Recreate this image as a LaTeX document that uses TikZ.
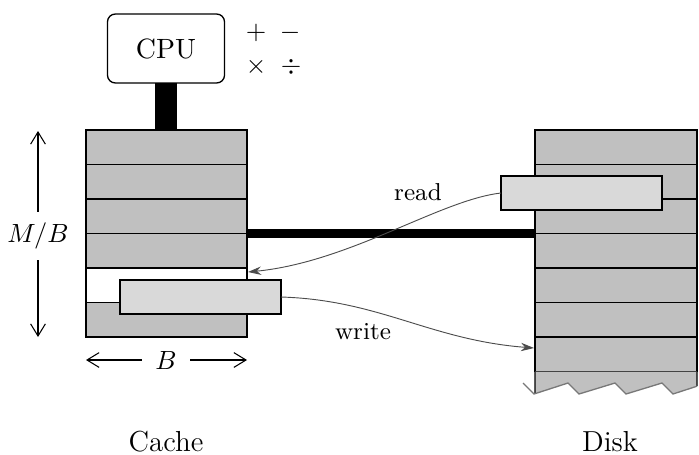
\documentclass[tikz,border=0pt]{standalone}
\usetikzlibrary{arrows.meta}
\definecolor{blk}{RGB}{192,192,192}
\definecolor{lite}{RGB}{217,217,217}
\definecolor{zig}{RGB}{120,120,120}
\begin{document}
\begin{tikzpicture}[x=0.38pt,y=-0.38pt,
  crow/.style={draw, line width=0.5pt, fill=blk, minimum width=61.18pt, minimum height=13.11pt, inner sep=0pt, outer sep=0pt},
  drow/.style={draw, line width=0.5pt, fill=blk, minimum width=61.56pt, minimum height=13.11pt, inner sep=0pt, outer sep=0pt},
  litebox/.style={draw, line width=0.5pt, fill=lite, minimum width=61.18pt, minimum height=12.92pt, inner sep=0pt, outer sep=0pt},
  lbl/.style={font=\fontsize{11}{13}\selectfont},
  small/.style={font=\fontsize{9.3}{11}\selectfont},
  dimarrow/.style={line width=0.4pt, -{Straight Barb[length=4.6pt,width=5.6pt]}},
  flow/.style={line width=0.35pt, draw=black!70, -{Stealth[length=5pt,width=3.2pt]}}
]
\useasboundingbox (0,0) rectangle (699,454);

% CPU
\node[draw, line width=0.5pt, rounded corners=3pt, minimum width=44.5pt, minimum height=26.2pt, inner sep=0pt, outer sep=0pt, font=\fontsize{10.6}{12}\selectfont] (cpu) at (166,48.5) {CPU};
\node (plus) at (256,33) {$+$};
\node (minus) at (290,33) {$-$};
\node (times) at (256,67) {$\times$};
\node (div) at (291,67) {$\div$};

% Cache rows
\node[crow] (c1) at (166.5,147.25) {};
\node[crow] (c2) at (166.5,181.75) {};
\node[crow] (c3) at (166.5,216.25) {};
\node[crow] (c4) at (166.5,250.75) {};
\node[crow, fill=white] (c5) at (166.5,285.25) {};
\node[crow] (c6) at (166.5,319.75) {};

% Disk rows
\node[drow] (d1) at (616,147.25) {};
\node[drow] (d2) at (616,181.75) {};
\node[drow] (d3) at (616,216.25) {};
\node[drow] (d4) at (616,250.75) {};
\node[drow] (d5) at (616,285.25) {};
\node[drow] (d6) at (616,319.75) {};
\node[drow] (d7) at (616,354.25) {};

% Disk broken bottom
\begin{scope}
\clip (535,371.5) rectangle (697,400);
\fill[blk] (523,371.5) -- (707,371.5) -- (707,383) -- (673,394) -- (662,383) -- (626,394) -- (615,383) -- (579,394) -- (568,383) -- (534,394) -- (523,383) -- cycle;
\end{scope}
\draw[line width=0.5pt] (d7.south west) -- (535,393.7);
\draw[line width=0.5pt] (d7.south east) -- (697,386.2);
\draw[zig, line width=0.5pt] (523,383) -- (534,394) -- (568,383) -- (579,394) -- (615,383) -- (626,394) -- (662,383) -- (673,394) -- (697,386.2);

% light blocks
\node[litebox] (cw) at (200.5,297) {};
\node[litebox] (dr) at (581.5,193) {};

% buses
\draw[line width=8.4pt] (cpu.south) -- (cpu.south |- c1.north);
\draw[line width=3.3pt] (c3.south east) -- (d3.south west);

% read / write
\coordinate (rtip) at (248,272);
\coordinate (wtip) at (534,348);
\draw[flow] (dr.west) .. controls (440,200) and (350,262) .. (rtip);
\draw[flow] (cw.east) .. controls (380,300) and (430,340) .. (wtip);
\node[small] (read) at (418,192) {read};
\node[small] (write) at (363,332) {write};

% dimensions
\node[inner sep=4pt] (mb) at (38,236) {$M/B$};
\coordinate (mbtop) at (38,131);
\coordinate (mbbot) at (38,337);
\draw[dimarrow] (mb.north) -- (mbtop);
\draw[dimarrow] (mb.south) -- (mbbot);
\node[inner sep=5pt] (b) at (166,360) {$B$};
\coordinate (bl) at (86,360);
\coordinate (br) at (247,360);
\draw[dimarrow] (b.west) -- (bl);
\draw[dimarrow] (b.east) -- (br);

% titles
\node[lbl] (cache) at (166,442) {Cache};
\node[lbl] (disk) at (610,442) {Disk};
\end{tikzpicture}
\end{document}
